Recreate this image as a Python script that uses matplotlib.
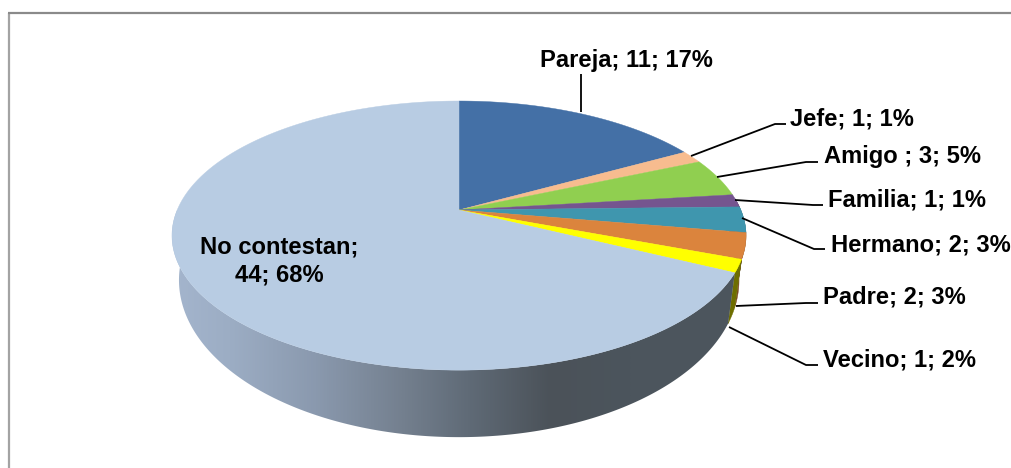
import numpy as np
import matplotlib
matplotlib.use("Agg")
import matplotlib.pyplot as plt
from matplotlib.colors import LinearSegmentedColormap
from matplotlib.patches import Polygon

plt.rcParams['font.family'] = ['Liberation Sans', 'DejaVu Sans']

categories = ["Pareja", "Jefe", "Amigo ", "Familia", "Hermano", "Padre", "Vecino", "No contestan"]
values = [11, 1, 3, 1, 2, 2, 1, 44]
percents = [17, 1, 5, 1, 3, 3, 2, 68]
colors = ["#4470a6", "#f7bc8f", "#90cf50", "#75558f", "#3f96ae", "#db843d", "#ffff00", "#b8cce3"]
side_colors = ["#2e4c70", "#a87f60", "#628c36", "#4f3a61", "#2b6676", "#7a4a22", "#6e6e00", None]

W, H = 1011, 468
fig = plt.figure(figsize=(W / 100, H / 100), dpi=100, facecolor="white")
ax = fig.add_axes([0, 0, 1, 1])
ax.set_xlim(0, W)
ax.set_ylim(H, 0)
ax.axis("off")

# perspective disc
CX, CY, A, B, K = 459, 210, 281.8, 129.7, 0.19
ELL_Y, ELL_RX, ELL_RY = 235.5, 287.0, 134.5
LOW_Y, LOW_RX, LOW_RY = 280.0, 280.0, 157.0

def rim(deg):
    t = np.radians(deg)
    u, v = np.sin(t), np.cos(t)
    w = 1 + K * v
    return np.column_stack((CX + A * u / w, CY - B * v / w))

def low_rim(deg):
    p = rim(deg)
    return np.column_stack((CX + (p[:, 0] - CX) * LOW_RX / ELL_RX,
                            LOW_Y + (p[:, 1] - ELL_Y) * LOW_RY / ELL_RY))

edges = np.concatenate(([0], np.cumsum(values))) / sum(values) * 360

# frame
ax.plot([9, 9], [H, 13], color="#a3a3a3", lw=1.6, solid_capstyle="butt", zorder=1)
ax.plot([8.2, W], [13, 13], color="#8a8a8a", lw=1.6, solid_capstyle="butt", zorder=1)

# side walls
for i in range(len(values)):
    a0, a1 = edges[i], edges[i + 1]
    lo, hi = max(a0, 85), min(a1, 285)
    if hi <= lo:
        continue
    th = np.linspace(lo, hi, 240)
    poly = np.vstack((rim(th), low_rim(th)[::-1]))
    if side_colors[i] is not None:
        ax.add_patch(Polygon(poly, closed=True, fc=side_colors[i], ec=side_colors[i], lw=0.3, zorder=2))
    else:
        cmap = LinearSegmentedColormap.from_list("side", [
            (0.00, "#a4b5cd"), (0.10, "#9cadc4"), (0.25, "#8a99ae"),
            (0.40, "#74808f"), (0.52, "#5f6a76"), (0.66, "#4b5259"),
            (0.80, "#4c555d"), (1.00, "#4d565e")])
        im = ax.imshow(np.linspace(0, 1, 512)[None, :], extent=(172, 746, 440, 210),
                       cmap=cmap, aspect="auto", zorder=2, interpolation="bilinear")
        patch = Polygon(poly, closed=True, transform=ax.transData, fc="none", ec="none")
        ax.add_patch(patch)
        im.set_clip_path(patch)
ax.set_xlim(0, W)
ax.set_ylim(H, 0)

# top faces
for i in range(len(values)):
    th = np.linspace(edges[i], edges[i + 1], max(3, int(edges[i + 1] - edges[i]) * 3))
    poly = np.vstack(([[CX, CY]], rim(th)))
    ax.add_patch(Polygon(poly, closed=True, fc=colors[i], ec=colors[i], lw=0.3, zorder=3))

# leaders and labels
leaders = {
    "Pareja": [(581, 112), (581, 74)],
    "Jefe": [(691, 156), (775, 124), (786, 124)],
    "Amigo ": [(717, 177), (806, 162), (818, 162)],
    "Familia": [(735, 200), (813, 205), (823, 205)],
    "Hermano": [(742, 218), (814, 249), (825, 249)],
    "Padre": [(736, 306), (806, 303), (818, 303)],
    "Vecino": [(729, 327), (806, 365), (818, 365)],
}
label_pos = {
    "Pareja": (540, 60), "Jefe": (790, 119), "Amigo ": (824, 157), "Familia": (828, 200),
    "Hermano": (831, 245), "Padre": (823, 297), "Vecino": (823, 360),
}
FS = 17.1
for name, val, pct in zip(categories, values, percents):
    if name in leaders:
        pts = np.array(leaders[name])
        ax.plot(pts[:, 0], pts[:, 1], color="black", lw=1.3, zorder=4, solid_capstyle="butt")
        x, y = label_pos[name]
        ax.text(x, y, f"{name}; {val}; {pct}%", fontsize=FS, fontweight="bold",
                ha="left", va="center", color="black", zorder=5, clip_on=False)
    else:
        ax.text(279, 261, f"{name};\n{val}; {pct}%", fontsize=FS, fontweight="bold",
                ha="center", va="center", color="black", zorder=5, linespacing=1.25)

fig.savefig("out.png", dpi=100, facecolor="white")
